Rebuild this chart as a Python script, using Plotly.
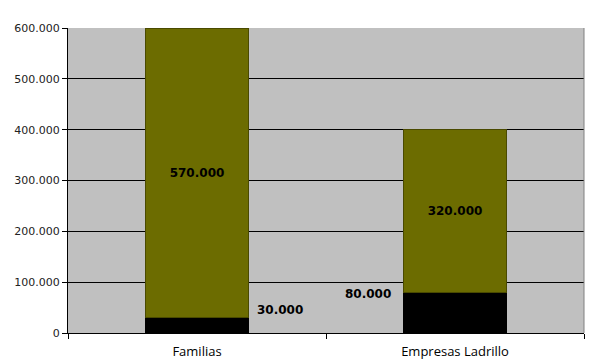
import plotly.graph_objects as go

categories = ["Familias", "Empresas Ladrillo"]
base_values = [30000, 80000]
top_values = [570000, 320000]
y_ticks = [0, 100000, 200000, 300000, 400000, 500000, 600000]

def fmt(v):
    return f"{v:,}".replace(",", ".")

fig = go.Figure()
fig.add_trace(go.Bar(x=categories, y=base_values, marker=dict(color="#000000", line=dict(width=0)),
                     width=0.4, hoverinfo="skip"))
fig.add_trace(go.Bar(x=categories, y=top_values, marker=dict(color="#6c6c00", line=dict(color="#4a4a00", width=1)),
                     width=0.4, text=[fmt(v) for v in top_values], textposition="inside",
                     insidetextanchor="middle",
                     textfont=dict(family="DejaVu Sans", size=12, color="#000000"),
                     texttemplate="<b>%{text}</b>", hoverinfo="skip"))

# labels for bottom segments
shifts = [(0.2, "left", 6, 8), (-0.2, "right", -10, -2)]
for i, (cat, v) in enumerate(zip(categories, base_values)):
    dx, anchor, xs, ys = shifts[i]
    fig.add_annotation(x=i + dx, y=v, xref="x", yref="y", text=f"<b>{fmt(v)}</b>",
                       showarrow=False, xanchor=anchor, yanchor="middle", xshift=xs, yshift=ys,
                       font=dict(family="DejaVu Sans", size=12, color="#000000"))

# page body has an 8px default margin, so the figure is sized to fit
fig.update_layout(
    barmode="stack",
    width=599, height=356,
    margin=dict(l=60, r=23, t=20, b=31, autoexpand=False),
    paper_bgcolor="#ffffff",
    plot_bgcolor="#c0c0c0",
    showlegend=False,
    separators=",.",
)
fig.update_yaxes(range=[0, 600000], tickvals=y_ticks, ticktext=[fmt(v) for v in y_ticks],
                 showgrid=True, gridcolor="#000000", gridwidth=1,
                 showline=True, linecolor="#000000", linewidth=1,
                 ticks="outside", ticklen=5, tickcolor="#000000",
                 tickfont=dict(family="DejaVu Sans", size=11, color="#222222"),
                 zeroline=False, fixedrange=True, automargin=False)
fig.update_xaxes(showline=True, linecolor="#000000", linewidth=1,
                 ticks="outside", ticklen=5, tickcolor="#000000", tickson="boundaries",
                 tickfont=dict(family="Open Sans", size=13, color="#000000"),
                 ticklabelstandoff=6,
                 fixedrange=True, automargin=False)
# right border of plot area
fig.add_shape(type="line", xref="paper", yref="paper", x0=1, x1=1, y0=0, y1=1,
              line=dict(color="#808080", width=1))

fig.write_html("out.html")
